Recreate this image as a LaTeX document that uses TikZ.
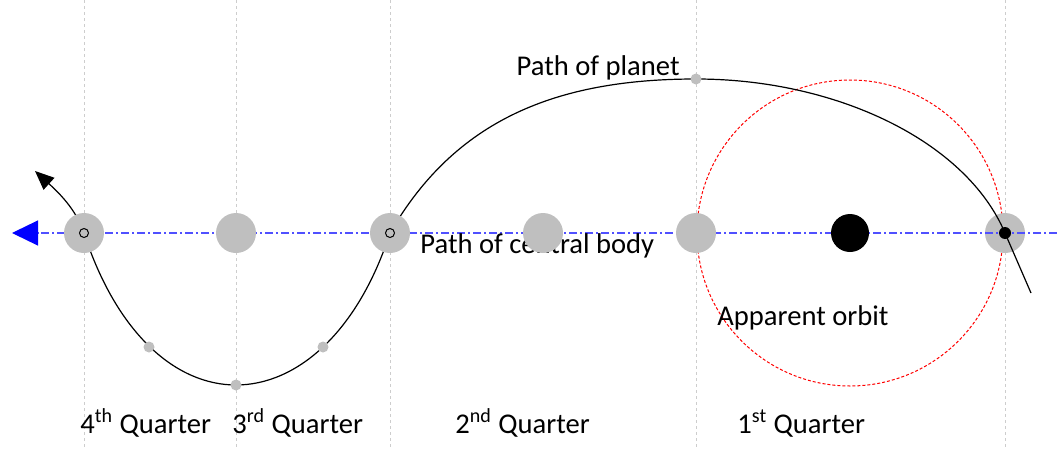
\documentclass[tikz,border=0pt]{standalone}
\usepackage{fontspec}
\setmainfont{Carlito}
\usetikzlibrary{arrows.meta}
\definecolor{bodygray}{RGB}{191,191,191}
\definecolor{guidegray}{RGB}{205,205,205}
\definecolor{pathblue}{RGB}{80,80,255}

\begin{document}
\begin{tikzpicture}[x=0.5pt,y=-0.5pt,
  guide/.style={guidegray, line width=0.5pt, dash pattern=on 1.5pt off 1.5pt},
  body/.style={circle, fill=bodygray, minimum size=20pt, inner sep=0pt},
  smalldot/.style={circle, fill=bodygray, minimum size=5.5pt, inner sep=0pt},
  ring/.style={circle, draw=black, line width=0.5pt, minimum size=4.5pt, inner sep=0pt},
  lbl/.style={font=\fontsize{14.3}{17}\selectfont, inner sep=0pt}]
\useasboundingbox (0,0) rectangle (1057,450);

% positions along the path of the central body
\coordinate (fourth) at (84,233);
\coordinate (third) at (236,233);
\coordinate (second) at (390,233);
\coordinate (mid) at (543,233);
\coordinate (first) at (696,233);
\coordinate (sun) at (850,233);
\coordinate (start) at (1005,233);
\coordinate (east) at (1057,233);
\coordinate (west) at (12,233);

% points on the path of the planet
\coordinate (enter) at (1031,293);
\coordinate (apex) at (696,79);
\coordinate (low2) at (323,347);
\coordinate (low3) at (236,385);
\coordinate (low4) at (149,347);
\coordinate (leave) at (35,171);

% quarter guides
\draw[guide] (84,0) -- (84,450);
\draw[guide] (236,0) -- (236,450);
\draw[guide] (390,0) -- (390,450);
\draw[guide] (696,0) -- (696,450);
\draw[guide] (1005,0) -- (1005,450);

% apparent orbit
\draw[red, line width=0.5pt, dash pattern=on 1.5pt off 1pt] (sun) circle[radius=153];

\node[body] (startbody) at (start) {};

\draw[draw=pathblue, line width=0.6pt, dash pattern=on 4pt off 1.5pt on 1pt off 1.5pt,
  -{Triangle[length=13pt,width=12.5pt,color=blue]}] (east) -- (west);

\node[lbl, anchor=base west] (central) at (420,253) {Path of central body};

% path of planet
\draw[line width=0.6pt, -{Triangle[length=9.5pt,width=8pt]}] (enter) -- (start)
  .. controls (966,141) and (836,79) .. (apex)
  .. controls (556,79) and (455,120) .. (second)
  .. controls (357,334.4) and (295.6,385) .. (low3)
  .. controls (176.4,385) and (117,334.4) .. (fourth)
  .. controls (76,209) and (58,192) .. (leave);

\node[body] (fourthbody) at (fourth) {};
\node[body] (thirdbody) at (third) {};
\node[body] (secondbody) at (second) {};
\node[body] (midbody) at (mid) {};
\node[body] (firstbody) at (first) {};
\node[circle, fill=black, minimum size=19pt, inner sep=0pt] (sunbody) at (sun) {};

\node[ring] (ring4) at (fourth) {};
\node[ring] (ring2) at (second) {};
\node[circle, fill=black, minimum size=6pt, inner sep=0pt] (planet) at (start) {};

\node[smalldot] (apexdot) at (apex) {};
\node[smalldot] (low2dot) at (low2) {};
\node[smalldot] (low3dot) at (low3) {};
\node[smalldot] (low4dot) at (low4) {};

\node[lbl, anchor=base east] (planetlbl) at (680,75) {Path of planet};
\node[lbl, anchor=base west] (orbitlbl) at (717,325) {Apparent orbit};

\node[lbl, anchor=base west] (q4lbl) at (80,433) {4\textsuperscript{th} Quarter};
\node[lbl, anchor=base west] (q3lbl) at (232,433) {3\textsuperscript{rd} Quarter};
\node[lbl, anchor=base west] (q2lbl) at (455,433) {2\textsuperscript{nd} Quarter};
\node[lbl, anchor=base west] (q1lbl) at (737,433) {1\textsuperscript{st} Quarter};
\end{tikzpicture}
\end{document}
